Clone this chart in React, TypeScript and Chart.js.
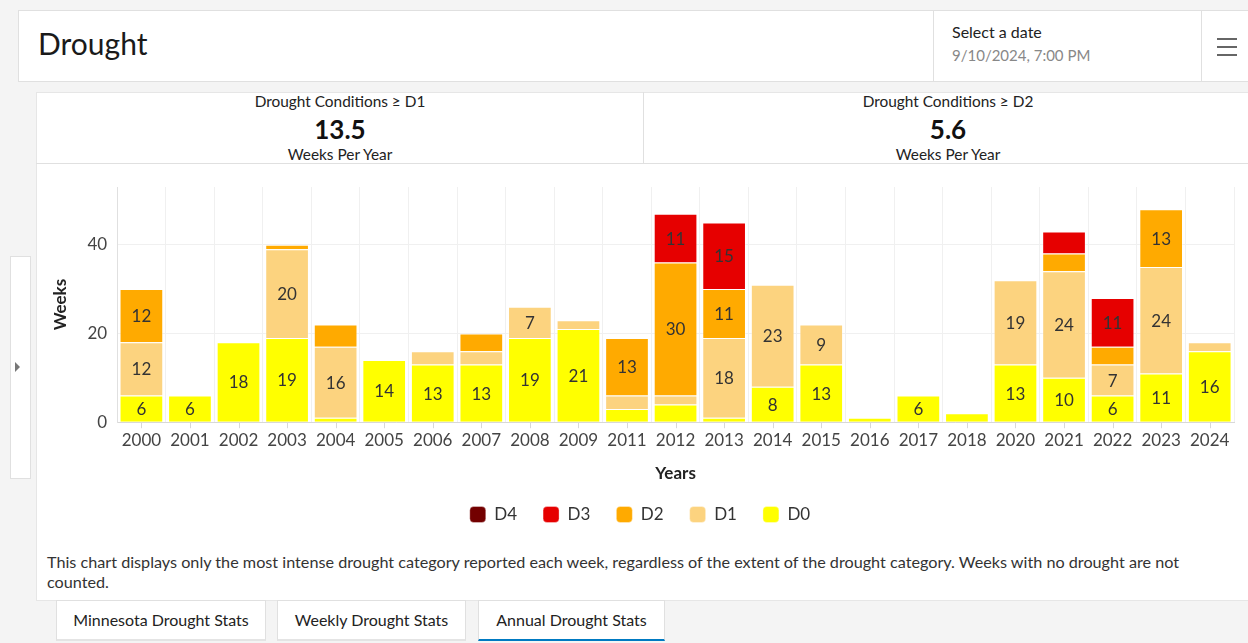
import React, { useEffect, useRef } from "react";
import { Chart, registerables } from "chart.js";

Chart.register(...registerables);

const years = ["2000","2001","2002","2003","2004","2005","2006","2007","2008","2009","2011","2012","2013","2014","2015","2016","2017","2018","2020","2021","2022","2023","2024"];
const d0 = [6, 6, 18, 19, 1, 14, 13, 13, 19, 21, 3, 4, 1, 8, 13, 1, 6, 2, 13, 10, 6, 11, 16];
const d1 = [12, 0, 0, 20, 16, 0, 3, 3, 7, 2, 3, 2, 18, 23, 9, 0, 0, 0, 19, 24, 7, 24, 2];
const d2 = [12, 0, 0, 1, 5, 0, 0, 4, 0, 0, 13, 30, 11, 0, 0, 0, 0, 0, 0, 4, 4, 13, 0];
const d3 = [0, 0, 0, 0, 0, 0, 0, 0, 0, 0, 0, 11, 15, 0, 0, 0, 0, 0, 0, 5, 11, 0, 0];
const d4 = [0, 0, 0, 0, 0, 0, 0, 0, 0, 0, 0, 0, 0, 0, 0, 0, 0, 0, 0, 0, 0, 0, 0];
const yTicks = [0, 20, 40];

const FONT = "Lato, 'Open Sans', sans-serif";

const labelPlugin = {
  id: "segLabels",
  afterDatasetsDraw(chart: any) {
    const ctx = chart.ctx;
    ctx.save();
    ctx.font = `17px ${FONT}`;
    ctx.fillStyle = "#333";
    ctx.textAlign = "center";
    ctx.textBaseline = "middle";
    chart.data.datasets.forEach((ds: any, i: number) => {
      const meta = chart.getDatasetMeta(i);
      meta.data.forEach((el: any, j: number) => {
        const v = ds.data[j];
        if (v >= 6) {
          const p = el.getProps(["x", "y", "base"], true);
          ctx.fillText(String(v), p.x, (p.y + p.base) / 2 + 1);
        }
      });
    });
    ctx.restore();
  },
};

const centerTicks = {
  id: "centerTicks",
  afterDraw(chart: any) {
    const x = chart.scales.x;
    const ctx = chart.ctx;
    ctx.save();
    ctx.strokeStyle = "#d8d8d8";
    ctx.lineWidth = 1;
    for (let i = 0; i < years.length; i++) {
      const px = Math.round(x.getPixelForValue(i)) + 0.5;
      ctx.beginPath();
      ctx.moveTo(px, chart.chartArea.bottom);
      ctx.lineTo(px, chart.chartArea.bottom + 6);
      ctx.stroke();
    }
    ctx.restore();
  },
};

export default function App() {
  const ref = useRef<HTMLCanvasElement>(null);
  useEffect(() => {
    document.body.style.margin = "0";
    const mk = (label: string, data: number[], color: string) => ({
      label,
      data,
      backgroundColor: color,
      borderColor: "rgba(255,255,255,0.35)",
      borderWidth: 1,
      barPercentage: 0.9,
      categoryPercentage: 1,
    });
    const chart = new Chart(ref.current!, {
      type: "bar",
      data: {
        labels: years,
        datasets: [
          mk("D0", d0, "#FFFF00"),
          mk("D1", d1, "#FCD37F"),
          mk("D2", d2, "#FFAA00"),
          mk("D3", d3, "#E60000"),
          mk("D4", d4, "#730000"),
        ],
      },
      options: {
        animation: false,
        responsive: false,
        maintainAspectRatio: false,
        layout: { padding: { top: 23, right: 14, left: 9, bottom: 5 } },
        plugins: {
          tooltip: { enabled: false },
          legend: {
            position: "bottom",
            reverse: true,
            labels: {
              boxWidth: 16,
              boxHeight: 16,
              useBorderRadius: true,
              borderRadius: 4,
              padding: 26,
              color: "#333",
              font: { family: FONT, size: 17 },
            },
          },
        },
        scales: {
          x: {
            stacked: true,
            grid: { offset: true, color: "#f0f0f0", drawTicks: false },
            border: { color: "#d8d8d8" },
            ticks: { color: "#444", font: { family: FONT, size: 17 }, padding: 8, maxRotation: 0 },
            title: { display: true, text: "Years", color: "#222", font: { family: FONT, size: 17, weight: "bold" }, padding: { top: 5, bottom: -4 } },
          },
          y: {
            stacked: true,
            min: 0,
            max: 53,
            afterBuildTicks: (axis: any) => {
              axis.ticks = yTicks.map((v) => ({ value: v }));
            },
            grid: { color: "#f0f0f0", drawTicks: false },
            border: { color: "#e0e0e0" },
            ticks: { color: "#444", font: { family: FONT, size: 17 }, padding: 10 },
            title: { display: true, text: "Weeks", color: "#222", font: { family: FONT, size: 17, weight: "bold" }, padding: { bottom: 7 } },
          },
        },
      } as any,
      plugins: [labelPlugin, centerTicks],
    });
    return () => chart.destroy();
  }, []);

  const box: React.CSSProperties = { position: "absolute", boxSizing: "border-box" };
  return (
    <div style={{ position: "fixed", left: 0, top: 0, width: 1248, height: 643, background: "#f4f4f4", overflow: "hidden", fontFamily: FONT, color: "#222" }}>
      {/* header */}
      <div style={{ ...box, left: 18, top: 10, width: 1240, height: 72, background: "#fff", border: "1px solid #e0e0e0" }} />
      <div style={{ ...box, left: 38, top: 25, fontSize: 30, color: "#1a1a1a" }}>Drought</div>
      <div style={{ ...box, left: 933, top: 10, width: 1, height: 72, background: "#e0e0e0" }} />
      <div style={{ ...box, left: 952, top: 22, fontSize: 16, color: "#222" }}>Select a date</div>
      <div style={{ ...box, left: 952, top: 46, fontSize: 15, color: "#888" }}>9/10/2024, 7:00 PM</div>
      <div style={{ ...box, left: 1201, top: 10, width: 1, height: 72, background: "#e0e0e0" }} />
      <div style={{ ...box, left: 1217, top: 38, width: 20, height: 2, background: "#666" }} />
      <div style={{ ...box, left: 1217, top: 46, width: 20, height: 2, background: "#666" }} />
      <div style={{ ...box, left: 1217, top: 54, width: 20, height: 2, background: "#666" }} />

      {/* left side tab */}
      <div style={{ ...box, left: 10, top: 256, width: 21, height: 223, background: "#fff", border: "1px solid #e0e0e0" }} />
      <div style={{ ...box, left: 15, top: 362, width: 0, height: 0, borderTop: "5px solid transparent", borderBottom: "5px solid transparent", borderLeft: "5px solid #777" }} />

      {/* panel */}
      <div style={{ ...box, left: 36, top: 92, width: 1220, height: 509, background: "#fff", border: "1px solid #e6e6e6" }} />
      <div style={{ ...box, left: 36, top: 163, width: 1220, height: 1, background: "#e0e0e0" }} />
      <div style={{ ...box, left: 643, top: 92, width: 1, height: 72, background: "#e0e0e0" }} />
      {[{ cx: 340, t: "Drought Conditions ≥ D1", v: "13.5" }, { cx: 948, t: "Drought Conditions ≥ D2", v: "5.6" }].map((s) => (
        <div key={s.t} style={{ ...box, left: s.cx - 200, top: 92, width: 400, textAlign: "center" }}>
          <div style={{ fontSize: 15.4, lineHeight: "18px", color: "#222" }}>{s.t}</div>
          <div style={{ fontSize: 26, fontWeight: "bold", lineHeight: "34px", marginTop: 2, color: "#111" }}>{s.v}</div>
          <div style={{ fontSize: 15.4, lineHeight: "18px", marginTop: -1, color: "#222" }}>Weeks Per Year</div>
        </div>
      ))}

      <canvas ref={ref} width={1211} height={374} style={{ position: "absolute", left: 37, top: 164, width: 1211, height: 374 }} />

      <div style={{ ...box, left: 47, top: 552, width: 1190, fontSize: 16.2, lineHeight: "20px", color: "#333" }}>
        This chart displays only the most intense drought category reported each week, regardless of the extent of the drought category. Weeks with no drought are not counted.
      </div>

      {/* tabs */}
      {[{ l: 56, w: 210, t: "Minnesota Drought Stats", a: false }, { l: 277, w: 189, t: "Weekly Drought Stats", a: false }, { l: 478, w: 187, t: "Annual Drought Stats", a: true }].map((tb) => (
        <div key={tb.t} style={{ ...box, left: tb.l, top: 600, width: tb.w, height: 41, background: "#fff", border: "1px solid #e0e0e0", borderBottom: tb.a ? "2px solid #007ac2" : "2px solid #e4e4e4", textAlign: "center", fontSize: 16, lineHeight: "38px", color: "#222" }}>
          {tb.t}
        </div>
      ))}
    </div>
  );
}
